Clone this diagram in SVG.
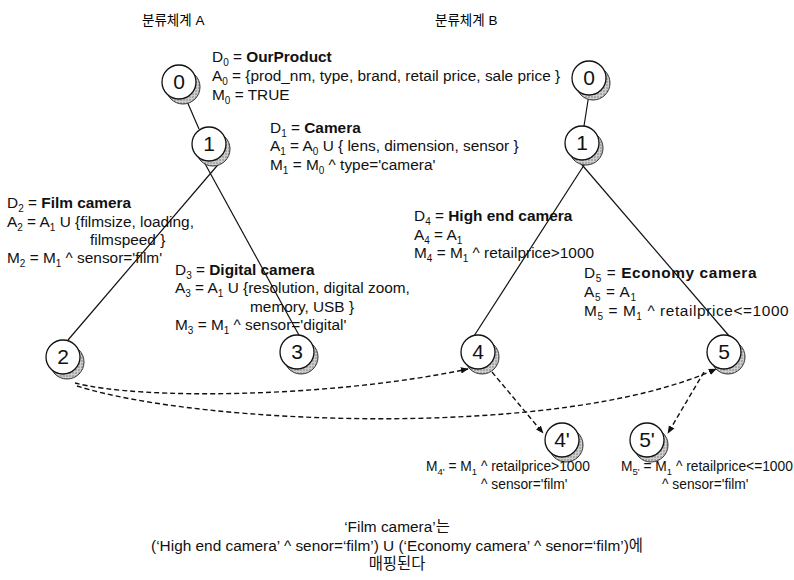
<svg xmlns="http://www.w3.org/2000/svg" width="794" height="580" viewBox="0 0 794 580">
<style>
text{font-family:"Liberation Sans","Noto Sans CJK KR",sans-serif;font-size:15.4px;fill:#111}
.t{font-size:13.5px;fill:#000}
.b{font-weight:bold}
.sb{font-size:10px}
.lbl{font-size:21px;text-anchor:middle}
.ring{fill:#fff;stroke:#111;stroke-width:1.3}
.sh{fill:url(#dots);stroke:#333;stroke-width:1}
.edge{stroke:#111;stroke-width:1.2;fill:none}
.map{stroke:#111;stroke-width:1.4;fill:none;stroke-dasharray:5 3}
.c{text-anchor:middle}
#d5 text{letter-spacing:0.6px}
#d4p text,#d5p text{font-size:13.8px}
#d4p .sb,#d5p .sb{font-size:9.5px}
</style>
<defs>
<pattern id="dots" width="3" height="3" patternUnits="userSpaceOnUse">
<rect width="3" height="3" fill="#cfcfcf"/>
<circle cx="1" cy="1" r="0.7" fill="#666"/>
</pattern>
<marker id="ah" viewBox="0 0 10 10" refX="9" refY="5" markerWidth="8" markerHeight="8" orient="auto" markerUnits="userSpaceOnUse">
<path d="M0,1 L10,5 L0,9 Z" fill="#111"/>
</marker>
</defs>

<g id="titles">
<text class="t" x="142" y="25">분류체계 A</text>
<text class="t" x="435" y="25">분류체계 B</text>
</g>

<g id="connectors">
<line class="edge" x1="186" y1="99" x2="199" y2="129"/>
<line class="edge" x1="222" y1="160" x2="68" y2="340"/>
<line class="edge" x1="203" y1="160" x2="300" y2="337"/>
<line class="edge" x1="589" y1="94" x2="584" y2="126"/>
<line class="edge" x1="588" y1="159" x2="474" y2="336"/>
<line class="edge" x1="577" y1="159" x2="730" y2="337"/>
<path class="map" d="M75,383 C140,400 330,398 468,369" marker-end="url(#ah)"/>
<path class="map" d="M77,386 C200,425 560,440 716,369" marker-end="url(#ah)"/>
<line class="map" x1="492" y1="372" x2="543" y2="433" marker-end="url(#ah)"/>
<line class="map" x1="704" y1="372" x2="668" y2="433" marker-end="url(#ah)"/>
</g>

<g id="nA0"><circle class="sh" cx="183" cy="87" r="17"/><circle class="ring" cx="179" cy="82" r="17"/><text class="lbl" x="179" y="89">0</text></g>
<g id="nA1"><circle class="sh" cx="213" cy="149" r="17"/><circle class="ring" cx="209" cy="144" r="17"/><text class="lbl" x="209" y="151">1</text></g>
<g id="nA2"><circle class="sh" cx="67" cy="362" r="17"/><circle class="ring" cx="63" cy="357" r="17"/><text class="lbl" x="63" y="364">2</text></g>
<g id="nA3"><circle class="sh" cx="301" cy="357" r="17"/><circle class="ring" cx="297" cy="352" r="17"/><text class="lbl" x="297" y="359">3</text></g>
<g id="nB0"><circle class="sh" cx="593" cy="83" r="17"/><circle class="ring" cx="589" cy="78" r="17"/><text class="lbl" x="589" y="85">0</text></g>
<g id="nB1"><circle class="sh" cx="586" cy="148" r="17"/><circle class="ring" cx="582" cy="143" r="17"/><text class="lbl" x="582" y="150">1</text></g>
<g id="nB4"><circle class="sh" cx="482" cy="357" r="17"/><circle class="ring" cx="478" cy="352" r="17"/><text class="lbl" x="478" y="359">4</text></g>
<g id="nB5"><circle class="sh" cx="728" cy="357" r="17"/><circle class="ring" cx="724" cy="352" r="17"/><text class="lbl" x="724" y="359">5</text></g>
<g id="nB4p"><circle class="sh" cx="566" cy="445" r="17"/><circle class="ring" cx="562" cy="440" r="17"/><text class="lbl" x="562" y="447">4'</text></g>
<g id="nB5p"><circle class="sh" cx="651" cy="445" r="17"/><circle class="ring" cx="647" cy="440" r="17"/><text class="lbl" x="647" y="447">5'</text></g>

<g id="d0">
<text x="212" y="62">D<tspan class="sb" dy="4">0</tspan><tspan dy="-4"> = </tspan><tspan class="b">OurProduct</tspan></text>
<text x="212" y="81">A<tspan class="sb" dy="4">0</tspan><tspan dy="-4"> = {prod_nm, type, brand, retail price, sale price }</tspan></text>
<text x="212" y="100">M<tspan class="sb" dy="4">0</tspan><tspan dy="-4"> = TRUE</tspan></text>
</g>
<g id="d1">
<text x="270" y="133">D<tspan class="sb" dy="4">1</tspan><tspan dy="-4"> = </tspan><tspan class="b">Camera</tspan></text>
<text x="270" y="151">A<tspan class="sb" dy="4">1</tspan><tspan dy="-4"> = A</tspan><tspan class="sb" dy="4">0</tspan><tspan dy="-4"> U { lens, dimension, sensor }</tspan></text>
<text x="270" y="170">M<tspan class="sb" dy="4">1</tspan><tspan dy="-4"> = M</tspan><tspan class="sb" dy="4">0</tspan><tspan dy="-4"> ^ type='camera'</tspan></text>
</g>
<g id="d2">
<text x="7" y="208">D<tspan class="sb" dy="4">2</tspan><tspan dy="-4"> = </tspan><tspan class="b">Film camera</tspan></text>
<text x="7" y="227">A<tspan class="sb" dy="4">2</tspan><tspan dy="-4"> = A</tspan><tspan class="sb" dy="4">1</tspan><tspan dy="-4"> U {filmsize, loading,</tspan></text>
<text x="90" y="245">filmspeed }</text>
<text x="7" y="263">M<tspan class="sb" dy="4">2</tspan><tspan dy="-4"> = M</tspan><tspan class="sb" dy="4">1</tspan><tspan dy="-4"> ^ sensor='film'</tspan></text>
</g>
<g id="d3">
<text x="175" y="275">D<tspan class="sb" dy="4">3</tspan><tspan dy="-4"> = </tspan><tspan class="b">Digital camera</tspan></text>
<text x="175" y="293">A<tspan class="sb" dy="4">3</tspan><tspan dy="-4"> = A</tspan><tspan class="sb" dy="4">1</tspan><tspan dy="-4"> U {resolution, digital zoom,</tspan></text>
<text x="250" y="312">memory, USB }</text>
<text x="175" y="330">M<tspan class="sb" dy="4">3</tspan><tspan dy="-4"> = M</tspan><tspan class="sb" dy="4">1</tspan><tspan dy="-4"> ^ sensor='digital'</tspan></text>
</g>
<g id="d4">
<text x="414" y="221">D<tspan class="sb" dy="4">4</tspan><tspan dy="-4"> = </tspan><tspan class="b">High end camera</tspan></text>
<text x="414" y="240">A<tspan class="sb" dy="4">4</tspan><tspan dy="-4"> = A</tspan><tspan class="sb" dy="4">1</tspan></text>
<text x="414" y="258">M<tspan class="sb" dy="4">4</tspan><tspan dy="-4"> = M</tspan><tspan class="sb" dy="4">1</tspan><tspan dy="-4"> ^ retailprice&gt;1000</tspan></text>
</g>
<g id="d5">
<text x="584" y="278">D<tspan class="sb" dy="4">5</tspan><tspan dy="-4"> = </tspan><tspan class="b">Economy camera</tspan></text>
<text x="584" y="297">A<tspan class="sb" dy="4">5</tspan><tspan dy="-4"> = A</tspan><tspan class="sb" dy="4">1</tspan></text>
<text x="584" y="316">M<tspan class="sb" dy="4">5</tspan><tspan dy="-4"> = M</tspan><tspan class="sb" dy="4">1</tspan><tspan dy="-4"> ^ retailprice&lt;=1000</tspan></text>
</g>
<g id="d4p">
<text x="426" y="471">M<tspan class="sb" dy="4">4'</tspan><tspan dy="-4"> = M</tspan><tspan class="sb" dy="4">1</tspan><tspan dy="-4"> ^ retailprice&gt;1000</tspan></text>
<text x="481" y="489">^ sensor='film'</text>
</g>
<g id="d5p">
<text x="621" y="471">M<tspan class="sb" dy="4">5'</tspan><tspan dy="-4"> = M</tspan><tspan class="sb" dy="4">1</tspan><tspan dy="-4"> ^ retailprice&lt;=1000</tspan></text>
<text x="662" y="489">^ sensor='film'</text>
</g>

<g id="caption">
<text class="c" x="397" y="532">‘Film camera’는</text>
<text class="c" x="397" y="551">(‘High end camera’ ^ senor=‘film’) U (‘Economy camera’ ^ senor=‘film’)에</text>
<text class="c" x="397" y="569">매핑된다</text>
</g>
</svg>
